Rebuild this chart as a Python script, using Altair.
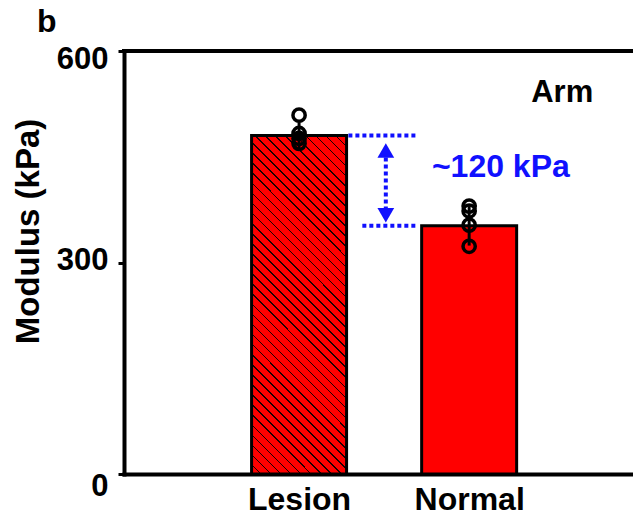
import altair as alt
import pandas as pd

# ---- data ----
categories = ["Lesion", "Normal"]
bar_values = [480, 352]
bar_errors = [19, 28]
lesion_points = [509, 483, 476, 469]
normal_points = [380, 373, 353, 323]
y_ticks = [0, 300, 600]
diff_label = "~120 kPa"
site_label = "Arm"
panel_label = "b"

FONT = "Liberation Sans"
RED = "#ff0000"
BLUE = "#1010ff"

pos = [i + 1 for i in range(len(categories))]
bars = pd.DataFrame({"cat": categories, "pos": pos, "value": bar_values,
                     "lo": [v - e for v, e in zip(bar_values, bar_errors)],
                     "hi": [v + e for v, e in zip(bar_values, bar_errors)]})
points = pd.DataFrame({
    "pos": [pos[0]] * len(lesion_points) + [pos[1]] * len(normal_points),
    "value": lesion_points + normal_points,
})

W, H = 509, 423
XMAX = 2.934
xscale = alt.Scale(domain=[0, XMAX], nice=False, zero=False)
yscale = alt.Scale(domain=[0, 600], nice=False)

label_expr = " : ".join(
    f"datum.value == {p} ? '{c}'" for p, c in zip(pos, categories)
) + " : ''"

x_axis = alt.Axis(values=pos, labelExpr=label_expr, title=None, ticks=False,
                  tickSize=0, grid=False, domainWidth=4, domainColor="black",
                  domainCap="square", labelFont=FONT, labelFontSize=32,
                  labelFontWeight="bold", labelColor="black", labelPadding=10,
                  labelBaseline="top")
y_axis = alt.Axis(values=y_ticks, title="Modulus (kPa)", grid=False,
                  domainWidth=4, domainColor="black", domainCap="square",
                  tickSize=6, tickWidth=3, tickColor="black",
                  labelFont=FONT, labelFontSize=31, labelFontWeight="bold",
                  labelColor="black", labelPadding=10,
                  labelOffset=alt.ExprRef("datum.value == 600 ? 8 : datum.value == 0 ? 12 : -2"),
                  titleFont=FONT, titleFontSize=33, titleFontWeight="bold",
                  titleColor="black", titleX=-86, titleY=180,
                  titleBaseline="alphabetic", titleAngle=270)

# hatch pattern (style) as a hard-stop linear gradient for the Lesion bar
BW, BH = 95, 338
k = (BW + BH) / (BW * BW + BH * BH)
n_stripes = 43
period = 1.0 / n_stripes
black_w = period * 0.16
stops = []
for i in range(n_stripes):
    a = i * period
    stops += [alt.GradientStop(offset=round(a, 5), color=RED),
              alt.GradientStop(offset=round(a + period - black_w, 5), color=RED),
              alt.GradientStop(offset=round(a + period - black_w, 5), color="#1a0000"),
              alt.GradientStop(offset=round(min(a + period, 1.0), 5), color="#1a0000")]
hatch = alt.Gradient(gradient="linear", stops=stops, x1=0, y1=1,
                     x2=round(k * BW, 5), y2=round(1 - k * BH, 5))

base = alt.Chart(bars)
xenc = alt.X("pos:Q", scale=xscale, axis=x_axis)
yenc = alt.Y("value:Q", scale=yscale, axis=y_axis)

bar_lesion = base.transform_filter(alt.datum.cat == categories[0]).mark_bar(
    size=BW, fill=hatch, stroke="black", strokeWidth=3).encode(x=xenc, y=yenc)
bar_normal = base.transform_filter(alt.datum.cat == categories[1]).mark_bar(
    size=BW, fill=RED, stroke="black", strokeWidth=3).encode(x="pos:Q", y="value:Q")

err = base.mark_rule(color="black", strokeWidth=3).encode(
    x="pos:Q", y="lo:Q", y2="hi:Q")

pts = alt.Chart(points).mark_point(shape="circle", filled=False, size=150,
                                   stroke="black", strokeWidth=3.5,
                                   opacity=1).encode(x="pos:Q", y="value:Q")

# annotation (difference bracket)
hlines = pd.DataFrame({"x": [1.29, 1.372], "x2": [1.689, 1.689],
                       "y": bar_values})
hl = alt.Chart(hlines).mark_rule(color=BLUE, strokeWidth=4,
                                 strokeDash=[4, 3]).encode(
    x="x:Q", x2="x2:Q", y="y:Q")
vline = pd.DataFrame({"x": [1.51], "y": [449], "y2": [377]})
vl = alt.Chart(vline).mark_rule(color=BLUE, strokeWidth=4,
                                strokeDash=[4, 3]).encode(
    x="x:Q", y="y:Q", y2="y2:Q")
arrows = pd.DataFrame({"x": [1.51, 1.51], "y": [459, 367],
                       "shape": ["triangle-up", "triangle-down"]})
ar = alt.Chart(arrows).mark_point(filled=True, color=BLUE, size=280,
                                  opacity=1).encode(
    x="x:Q", y="y:Q",
    shape=alt.Shape("shape:N", scale=None, legend=None))

texts = pd.DataFrame({"x": [1.781], "y": [421], "t": [diff_label]})
tx = alt.Chart(texts).mark_text(align="left", baseline="alphabetic",
                                font=FONT, fontSize=32, fontWeight="bold",
                                color=BLUE).encode(x="x:Q", y="y:Q", text="t:N")
site = pd.DataFrame({"x": [2.547], "y": [528], "t": [site_label]})
st = alt.Chart(site).mark_text(align="center", baseline="alphabetic",
                               font=FONT, fontSize=31, fontWeight="bold",
                               color="black").encode(x="x:Q", y="y:Q", text="t:N")

panel = alt.Chart(pd.DataFrame({"t": [panel_label]})).mark_text(
    align="left", baseline="alphabetic", font=FONT, fontSize=32,
    fontWeight="bold", color="black").encode(
    x=alt.value(-87), y=alt.value(-19), text="t:N")

top = alt.Chart(bars).mark_rule(color="black", strokeWidth=4,
                                strokeCap="square").encode(y=alt.datum(600))

chart = alt.layer(bar_lesion, bar_normal, err, pts, hl, vl, ar, tx, st, top,
                  panel).properties(
    width=W, height=H,
    autosize=alt.AutoSizeParams(type="none"),
    padding={"left": 116, "top": 43, "right": 0, "bottom": 45},
    background="white",
).configure_view(stroke=None)

chart.save("out.html", embed_options={"renderer": "svg", "actions": False})
